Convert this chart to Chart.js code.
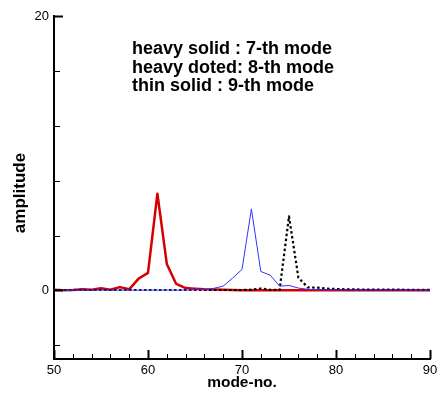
<!DOCTYPE html>
<html>
<head>
<meta charset="utf-8">
<script src="https://cdn.jsdelivr.net/npm/chart.js@4.4.1/dist/chart.umd.min.js"></script>
<style>
  html, body { margin: 0; padding: 0; background: #fff; }
  #wrap { width: 437px; height: 393px; }
</style>
</head>
<body>
<div id="wrap"><canvas id="chart" width="437" height="393"></canvas></div>
<script>
const modes = [];
for (let m = 50; m <= 90; m++) modes.push(m);

// amplitudes, modes 50..90
const mode7 = [0.05, 0.02, 0.03, 0.08, 0.05, 0.16, 0.05, 0.24, 0.08, 0.86, 1.28, 7.05, 1.93, 0.47, 0.17,
  0.12, 0.08, 0.06, 0.04, 0.03, 0.02, 0.02, 0.02, 0.02, 0.02, 0.02, 0.02, 0.02, 0.02, 0.02,
  0.02, 0.02, 0.02, 0.02, 0.02, 0.02, 0.02, 0.02, 0.02, 0.02, 0.02];
const mode8 = [0.03, 0.03, 0.03, 0.03, 0.03, 0.03, 0.03, 0.03, 0.03, 0.03, 0.03, 0.03, 0.03, 0.03, 0.03,
  0.03, 0.03, 0.03, 0.03, 0.03, 0.03, 0.05, 0.14, 0.04, 0.03, 5.4, 0.92, 0.22, 0.2, 0.13,
  0.1, 0.08, 0.07, 0.06, 0.06, 0.05, 0.05, 0.05, 0.04, 0.04, 0.04];
const mode9 = [0.02, 0.02, 0.02, 0.02, 0.02, 0.02, 0.02, 0.02, 0.02, 0.02, 0.02, 0.02, 0.02, 0.02, 0.03,
  0.04, 0.07, 0.15, 0.31, 0.9, 1.53, 5.94, 1.38, 1.11, 0.31, 0.36, 0.17, 0.08, 0.05, 0.04,
  0.03, 0.03, 0.03, 0.03, 0.03, 0.03, 0.03, 0.03, 0.03, 0.03, 0.03];

const xLabelTicks = [50, 60, 70, 80, 90];
const xMinorTicks = [];
for (let v = 50; v <= 90; v += 2) xMinorTicks.push(v);
const yLabelTicks = [0, 20];
const yMinorTicks = [-4, 0, 4, 8, 12, 16, 20];

const notes = ["heavy solid : 7-th mode", "heavy doted: 8-th mode", "thin solid : 9-th mode"];
const yTitle = "amplitude";

const FONT = "'Liberation Sans', Arial, sans-serif";

const pts = (arr) => arr.map((v, i) => ({ x: modes[i], y: v }));

// ticks point inward, like the original plot
const innerTicks = {
  id: "innerTicks",
  afterDraw(chart) {
    const { ctx, scales: { x, y } } = chart;
    ctx.save();
    ctx.strokeStyle = "#000";
    xMinorTicks.forEach((v) => {
      const px = Math.round(x.getPixelForValue(v)) + 0.5;
      const len = v % 10 === 0 ? 9 : 5;
      ctx.lineWidth = v % 10 === 0 ? 2 : 1;
      ctx.beginPath();
      ctx.moveTo(px, y.bottom);
      ctx.lineTo(px, y.bottom - len);
      ctx.stroke();
    });
    yMinorTicks.forEach((v) => {
      const py = Math.round(y.getPixelForValue(v)) + 0.5;
      const major = yLabelTicks.includes(v);
      ctx.lineWidth = major ? 2 : 1;
      ctx.beginPath();
      ctx.moveTo(x.left, py);
      ctx.lineTo(x.left + (major ? 9 : 6), py);
      ctx.stroke();
    });

    ctx.fillStyle = "#000";
    ctx.font = "bold 18px " + FONT;
    ctx.textAlign = "left";
    ctx.textBaseline = "alphabetic";
    notes.forEach((t, i) => {
      ctx.fillText(t, 132, 54 + i * 18.5);
    });

    // y title, placed where the original has it
    ctx.translate(20, 193);
    ctx.rotate(-Math.PI / 2);
    ctx.font = "bold 17px " + FONT;
    ctx.textAlign = "center";
    ctx.textBaseline = "middle";
    ctx.fillText(yTitle, 0, 0);
    ctx.restore();
  },
};

new Chart(document.getElementById("chart"), {
  type: "line",
  data: {
    datasets: [
      {
        label: "9-th mode",
        data: pts(mode9),
        borderColor: "rgb(50,50,255)",
        borderWidth: 1,
        pointRadius: 0,
        order: 1,
      },
      {
        label: "8-th mode",
        data: pts(mode8),
        borderColor: "#000",
        borderWidth: 2.2,
        borderDash: [2.5, 2.5],
        borderJoinStyle: "round",
        pointRadius: 0,
        order: 2,
      },
      {
        label: "7-th mode",
        data: pts(mode7),
        borderColor: "rgb(215,0,0)",
        borderWidth: 2.5,
        borderJoinStyle: "round",
        pointRadius: 0,
        order: 3,
      },
    ],
  },
  options: {
    responsive: false,
    animation: false,
    layout: { padding: { left: 0, right: 7, top: 16, bottom: 0 } },
    plugins: { legend: { display: false }, tooltip: { enabled: false } },
    scales: {
      x: {
        type: "linear",
        min: 50,
        max: 90,
        afterBuildTicks: (s) => { s.ticks = xLabelTicks.map((v) => ({ value: v })); },
        afterFit: (s) => { s.height = 34; s.paddingLeft = 0; s.paddingRight = 0; },
        grid: { display: false, drawTicks: false },
        border: { display: true, color: "#000", width: 2 },
        ticks: { color: "#000", padding: 4, font: { family: FONT, size: 13 }, maxRotation: 0 },
        title: { display: true, text: "mode-no.", color: "#000", padding: { top: 0, bottom: 1 }, font: { family: FONT, size: 15.5, weight: "bold" } },
      },
      y: {
        min: -5,
        max: 20,
        afterBuildTicks: (s) => { s.ticks = yLabelTicks.map((v) => ({ value: v })); },
        afterFit: (s) => { s.width = 54; s.paddingTop = 0; s.paddingBottom = 0; },
        grid: { display: false, drawTicks: false },
        border: { display: true, color: "#000", width: 2 },
        ticks: { color: "#000", padding: 5, font: { family: FONT, size: 13 } },
      },
    },
  },
  plugins: [innerTicks],
});
</script>
</body>
</html>
